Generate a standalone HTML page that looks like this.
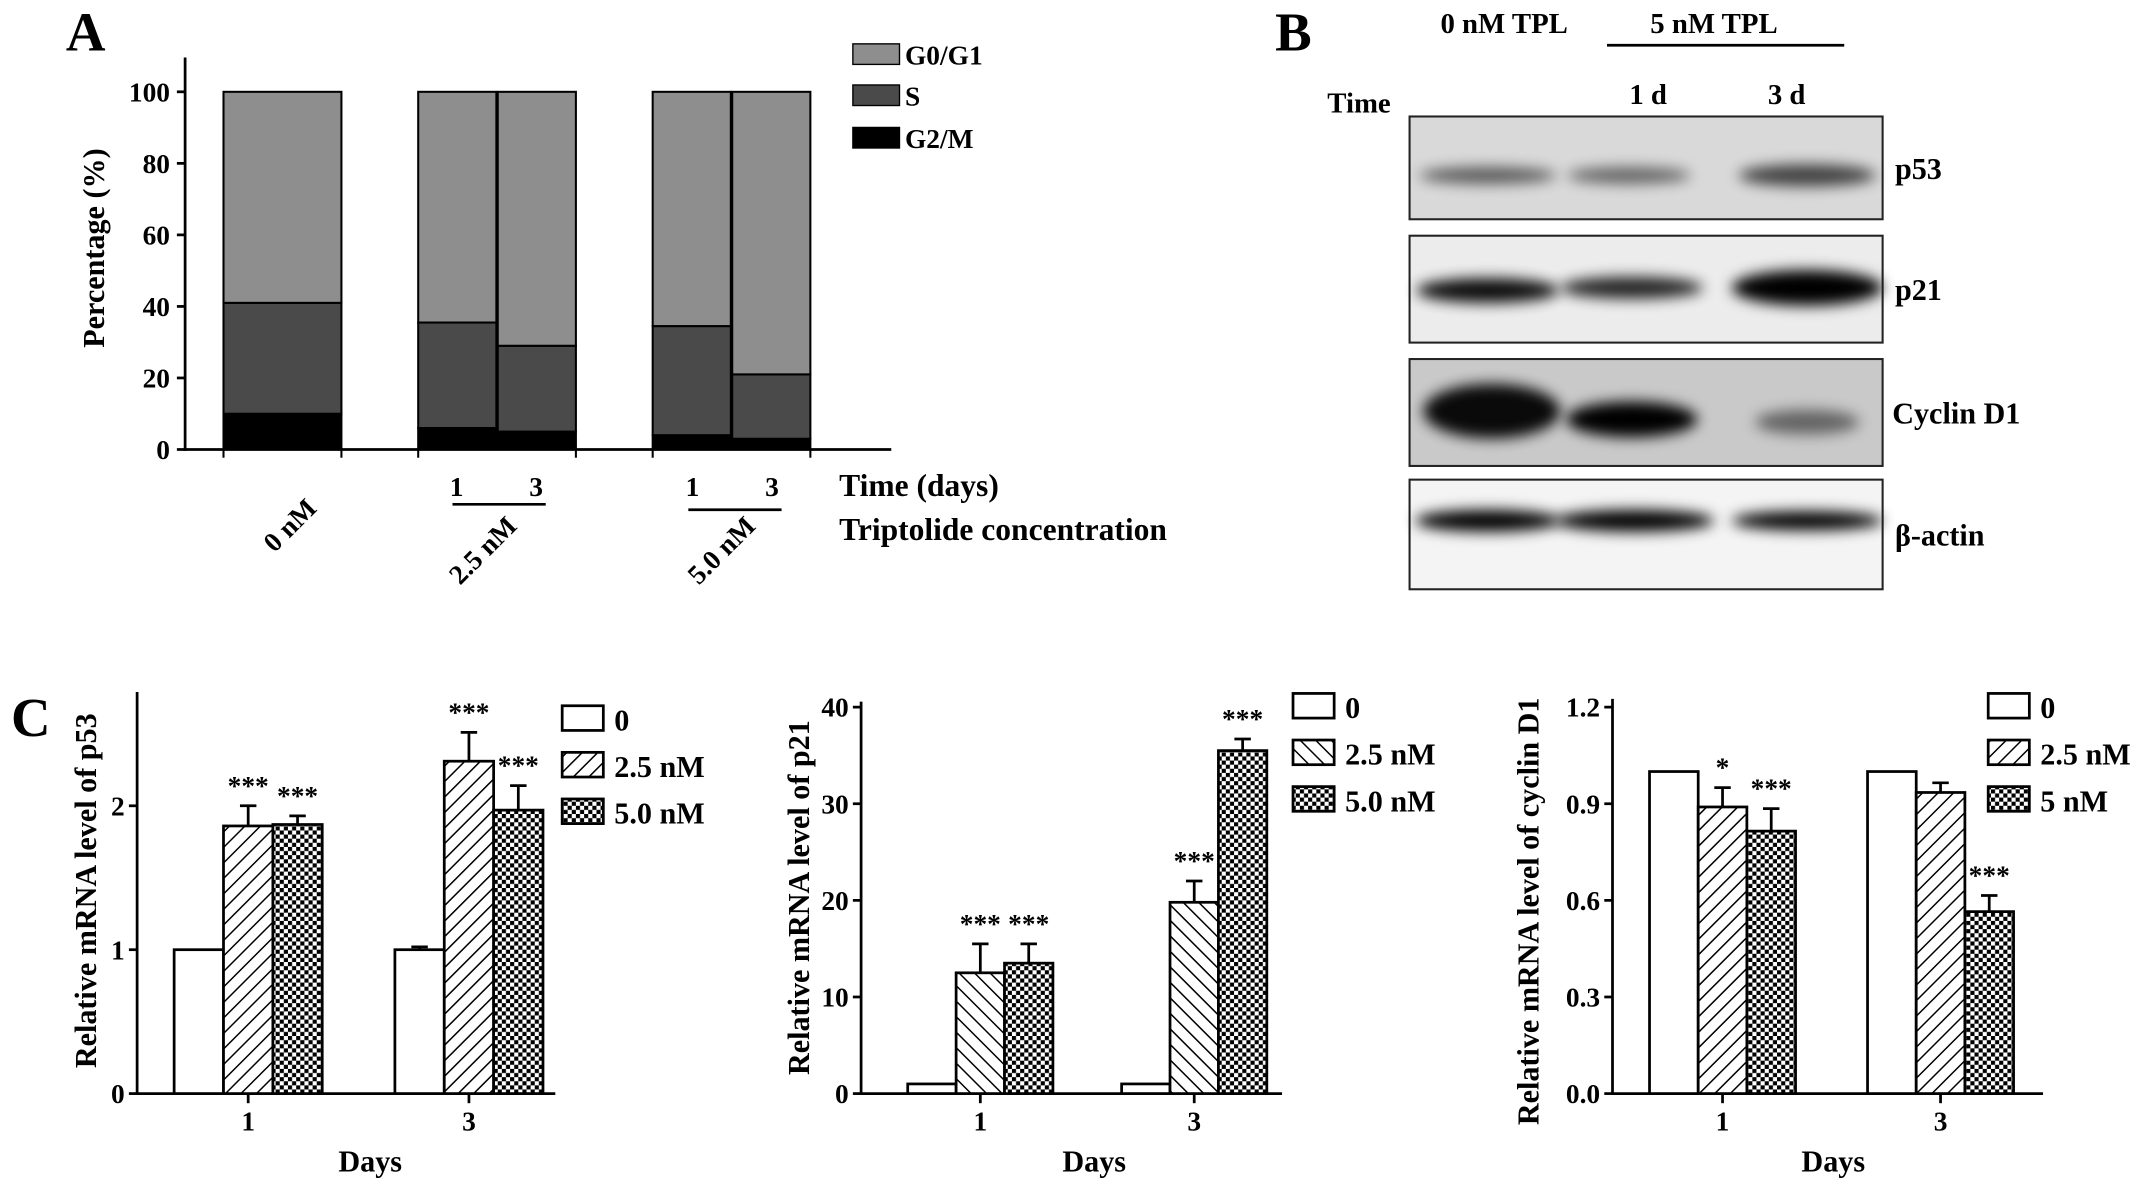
<!DOCTYPE html>
<html><head><meta charset="utf-8">
<style>
html,body{margin:0;padding:0;background:#fff;}
svg, svg text{font-family:"Liberation Serif","DejaVu Serif",serif;font-weight:bold;}
</style></head>
<body>
<svg id="fig" width="2150" height="1195" viewBox="0 0 1568 872" preserveAspectRatio="none" xmlns="http://www.w3.org/2000/svg" font-family="Liberation Serif, serif" font-weight="bold">
<defs>
<pattern id="hatchR" patternUnits="userSpaceOnUse" width="8" height="8" patternTransform="rotate(45)"><rect width="8" height="8" fill="#fff"/><line x1="0" y1="0" x2="0" y2="8" stroke="#000" stroke-width="2.2"/></pattern>
<pattern id="hatchL" patternUnits="userSpaceOnUse" width="8" height="8" patternTransform="rotate(-45)"><rect width="8" height="8" fill="#fff"/><line x1="0" y1="0" x2="0" y2="8" stroke="#000" stroke-width="2.2"/></pattern>
<pattern id="check" patternUnits="userSpaceOnUse" width="6" height="6"><rect width="6" height="6" fill="#fff"/><rect width="3" height="3" fill="#000"/><rect x="3" y="3" width="3" height="3" fill="#000"/></pattern>
<filter id="blur" x="-50%" y="-100%" width="200%" height="300%"><feGaussianBlur stdDeviation="5"/></filter>
</defs>
<g id="root" font-family="Liberation Serif, serif" font-weight="bold"></g>
</svg>
<script>
// ---------- Panel A data ----------
const aGroups = ["0nM","2.5-1","2.5-3","5.0-1","5.0-3"];
const aG2M = [10, 6, 5, 4, 3];
const aS = [31, 29.5, 24, 30.5, 18];
const aG0G1 = [59, 64.5, 71, 65.5, 79];
const aTicks = [0,20,40,60,80,100];
// ---------- Panel C data ----------
const cDays = ["1","3"];
const p53Vals0 = [1.0, 1.0], p53Vals25 = [1.86, 2.31], p53Vals5 = [1.87, 1.97];
const p53Err0 = [0, 0.02], p53Err25 = [0.14, 0.2], p53Err5 = [0.06, 0.17];
const p53Ticks = [0,1,2];
const p21Vals0 = [1, 1], p21Vals25 = [12.5, 19.8], p21Vals5 = [13.5, 35.5];
const p21Err0 = [0, 0], p21Err25 = [3, 2.2], p21Err5 = [2, 1.2];
const p21Ticks = [0,10,20,30,40];
const cycVals0 = [1.0, 1.0], cycVals25 = [0.89, 0.935], cycVals5 = [0.815, 0.565];
const cycErr0 = [0, 0], cycErr25 = [0.06, 0.03], cycErr5 = [0.07, 0.05];
const cycTicks = ["0.0","0.3","0.6","0.9","1.2"];

const NS="http://www.w3.org/2000/svg";
const root=document.getElementById('root');
function mk(tag,attrs,parent,text){const e=document.createElementNS(NS,tag);for(const k in attrs)e.setAttribute(k,attrs[k]);if(text!==undefined)e.textContent=text;(parent||root).appendChild(e);return e;}
function line(x1,y1,x2,y2,w,p){return mk('line',{x1,y1,x2,y2,stroke:'#000','stroke-width':w||2},p);}
function txt(x,y,s,size,anchor,p){return mk('text',{x,y,'font-size':size||20,'text-anchor':anchor||'start','font-family':'Liberation Serif, serif','font-weight':'bold'},p,s);}

// ===== Panel A =====
const gA=mk('g',{});


let t=txt(48,37,"A",40,'start',gA);
const ay0=328, ayPer=2.61;
function ay(v){return ay0-v*ayPer;}
line(135,42,135,329,2,gA);
line(134,328,650,328,2,gA);
aTicks.forEach(v=>{line(129,ay(v),135,ay(v),2,gA);const e=txt(124,ay(v)+7,String(v),20,'end',gA);});
[163,249,305,420,476,591].forEach(x=>line(x,328,x,334,1.5,gA));
const aX=[163,305,363,476,534], aW=[86,57,57,57,57];
aGroups.forEach((g,i)=>{
  let b=0;
  [[aG2M,'#000','g2m'],[aS,'#4a4a4a','s'],[aG0G1,'#8e8e8e','g0g1']].forEach(([arr,c,n])=>{
    const r=mk('rect',{x:aX[i],y:ay(b+arr[i]),width:aW[i],height:arr[i]*ayPer,fill:c,stroke:'#000','stroke-width':1.5},gA);
    
    
    b+=arr[i];
  });
});
t=mk('text',{x:0,y:0,'font-size':22,transform:'translate(76,181) rotate(-90)','text-anchor':'middle','font-family':'Liberation Serif, serif','font-weight':'bold'},gA,'Percentage (%)');
txt(333,362,"1",20,'middle',gA);txt(391,362,"3",20,'middle',gA);line(330,368,398,368,2,gA);
txt(505,362,"1",20,'middle',gA);txt(563,362,"3",20,'middle',gA);line(502,372,570,372,2,gA);
t=txt(612,362,"Time (days)",23,'start',gA);
t=txt(612,394,"Triptolide concentration",23,'start',gA);
[["0 nM",232,372],["2.5 nM",378,385],["5.0 nM",552,385]].forEach(([s,x,y])=>{const e=mk('text',{x:0,y:0,'font-size':20,'text-anchor':'end',transform:`translate(${x},${y}) rotate(-45)`,'font-family':'Liberation Serif, serif','font-weight':'bold'},gA,s);});
[["G0/G1",'#8e8e8e',32],["S",'#4a4a4a',62],["G2/M",'#000',93]].forEach(([s,c,y])=>{
  const lg=mk('g',{},gA);
  mk('rect',{x:622,y:y,width:34,height:15,fill:c,stroke:'#000','stroke-width':1},lg);
  txt(660,y+15,s,20,'start',lg);
});

// ===== Panel B =====
const gB=mk('g',{});


t=txt(930,37,"B",40,'start',gB);
txt(1097,24,"0 nM TPL",21,'middle',gB);txt(1250,24,"5 nM TPL",21,'middle',gB);line(1172,33,1345,33,2,gB);
txt(968,82,"Time",21,'start',gB);txt(1202,76,"1 d",21,'middle',gB);txt(1303,76,"3 d",21,'middle',gB);
const blots=[["p53",85,160,'#d9d9d9',[[1085,128,50,6,0.6],[1188,128,45,6,0.55],[1318,128,50,8,0.7]]],
 ["p21",172,250,'#ececec',[[1085,212,52,9,0.95],[1190,210,52,8,0.85],[1318,210,55,13,1]]],
 ["Cyclin D1",262,340,'#c9c9c9',[[1088,300,50,20,0.95],[1190,306,48,13,1],[1318,308,38,9,0.5]]],
 ["β-actin",350,430,'#f4f4f4',[[1085,380,53,8,1],[1192,380,58,8,1],[1318,380,55,7,1]]]];
blots.forEach(([n,y1,y2,bg,bands])=>{
  const bg_=mk('g',{},gB);
  mk('rect',{x:1028,y:y1,width:345,height:y2-y1,fill:bg},bg_);
  bands.forEach(([cx,cy,rx,ry,o])=>mk('ellipse',{cx,cy,rx,ry,fill:'#000',opacity:o,filter:'url(#blur)'},bg_));
  mk('rect',{x:1028,y:y1,width:345,height:y2-y1,fill:'none',stroke:'#222','stroke-width':1.5},bg_);
  txt(n==="Cyclin D1"?1380:1382,(y1+y2)/2+8,n,22,'start',bg_);
});

// ===== Panel C =====
t=txt(8,537,"C",40,'start');
function barChart(cfg){
  const g=mk('g',{});
  
  
  const y=v=>798-v*cfg.scale;
  line(cfg.ax,cfg.top,cfg.ax,799,2,g);
  line(cfg.ax-1,798,cfg.xend,798,2,g);
  cfg.ticks.forEach(s=>{const v=parseFloat(s);line(cfg.ax-6,y(v),cfg.ax,y(v),2,g);txt(cfg.ax-9,y(v)+7,String(s),20,'end',g);});
  const fills=['#fff',cfg.hatch,'url(#check)'];
  const series=[cfg.v0,cfg.v25,cfg.v5], errs=[cfg.e0,cfg.e25,cfg.e5];
  cfg.days.forEach((d,di)=>{
    const x0=cfg.gx[di];
    series.forEach((s,si)=>{
      const x=x0+si*cfg.bw;
      const r=mk('rect',{x:x,y:y(s[di]),width:cfg.bw,height:s[di]*cfg.scale,fill:fills[si],stroke:'#000','stroke-width':2},g);
      
      
      const e=errs[si][di];
      if(e>0){const cx=x+cfg.bw/2;line(cx,y(s[di]),cx,y(s[di]+e),2,g);line(cx-6,y(s[di]+e),cx+6,y(s[di]+e),2,g);}
      const st=cfg.stars[si][di];
      if(st){txt(x+cfg.bw/2,y(s[di]+e)-8,st,20,'middle',g);}
    });
    const cx=x0+1.5*cfg.bw;
    line(cx,798,cx,805,2,g);
    txt(cx,825,d,20,'middle',g);
  });
  const xt=txt(cfg.daysX,855,"Days",22,'middle',g);
  const yt=mk('text',{x:0,y:0,'font-size':22,'text-anchor':'middle',transform:`translate(${cfg.titleX},${cfg.titleY}) rotate(-90)`,'font-family':'Liberation Serif, serif','font-weight':'bold'},g,cfg.title);
  
  cfg.legend.forEach((s,i)=>{
    const lg=mk('g',{},g);
    const ly=cfg.ly+i*34;
    mk('rect',{x:cfg.lx,y:ly,width:30,height:18,fill:fills[i],stroke:'#000','stroke-width':2},lg);
    txt(cfg.lx+38,ly+18,s,22,'start',lg);
  });
}
barChart({name:'chart-p53',ax:100,top:505,xend:405,scale:105,ticks:p53Ticks,days:cDays,gx:[127,288],bw:36,
  v0:p53Vals0,v25:p53Vals25,v5:p53Vals5,e0:p53Err0,e25:p53Err25,e5:p53Err5,hatch:'url(#hatchR)',
  stars:[[null,null],["***","***"],["***","***"]],daysX:270,titleX:70,titleY:650,title:'Relative mRNA level of p53',
  legend:["0","2.5 nM","5.0 nM"],lx:410,ly:515});
barChart({name:'chart-p21',ax:628,top:512,xend:935,scale:7.05,ticks:p21Ticks,days:cDays,gx:[662,818],bw:35.3,
  v0:p21Vals0,v25:p21Vals25,v5:p21Vals5,e0:p21Err0,e25:p21Err25,e5:p21Err5,hatch:'url(#hatchL)',
  stars:[[null,null],["***","***"],["***","***"]],daysX:798,titleX:590,titleY:655,title:'Relative mRNA level of p21',
  legend:["0","2.5 nM","5.0 nM"],lx:943,ly:506});
barChart({name:'chart-cyclin-d1',ax:1176,top:510,xend:1490,scale:235,ticks:cycTicks,days:cDays,gx:[1203,1362],bw:35.5,
  v0:cycVals0,v25:cycVals25,v5:cycVals5,e0:cycErr0,e25:cycErr25,e5:cycErr5,hatch:'url(#hatchR)',
  stars:[[null,null],["*",null],["***","***"]],daysX:1337,titleX:1122,titleY:665,title:'Relative mRNA level of cyclin D1',
  legend:["0","2.5 nM","5 nM"],lx:1450,ly:506});
</script>
</body></html>
